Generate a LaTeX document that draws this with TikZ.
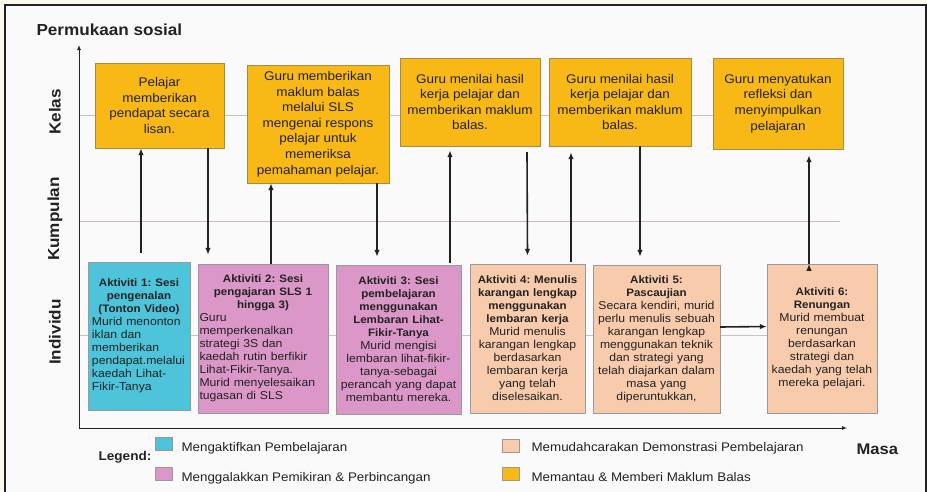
\documentclass[tikz,border=0pt]{standalone}
\usepackage{fontspec}
\setmainfont[FakeStretch=1.07]{Liberation Sans}
\usetikzlibrary{arrows.meta}
\frenchspacing

\definecolor{kuning}{HTML}{F8B916}
\definecolor{kuningtepi}{HTML}{A88A40}
\definecolor{biru}{HTML}{4DC4DA}
\definecolor{jambu}{HTML}{DA97C8}
\definecolor{pic}{HTML}{F8CBAC}
\definecolor{kelabutepi}{HTML}{9A9A9A}
\definecolor{kelabu}{HTML}{C4C4C4}
\definecolor{garismerah}{HTML}{CDB9B9}
\definecolor{hitam}{HTML}{222222}
\definecolor{latar}{HTML}{FCF8EC}

\newcommand{\tajukakt}[1]{{\fontsize{10.8}{13}\selectfont\bfseries #1\par}}

\begin{document}
\begin{tikzpicture}[x=1pt,y=-1pt,
  kotak/.style={draw=kuningtepi, fill=kuning, align=center, inner sep=0pt,
    text=hitam, font=\fontsize{12.6}{15.6}\selectfont},
  aktiviti/.style={draw=kelabutepi, inner sep=0pt, text=hitam,
    font=\fontsize{11.4}{13}\selectfont},
  paksi/.style={-{Latex[length=5pt,width=4pt]}, line width=1pt, draw=hitam},
  panah/.style={-{Latex[length=7pt,width=5.5pt]}, line width=1.6pt, draw=hitam},
  tahap/.style={font=\fontsize{16}{18}\selectfont\bfseries, text=hitam},
  petak/.style={draw=kelabutepi, minimum width=17pt, minimum height=13pt, inner sep=0pt},
  petunjuk/.style={anchor=base west, text=hitam, font=\fontsize{12.5}{14}\selectfont}]

  \useasboundingbox (0,0) rectangle (927,491);
  \fill[latar] (0,0) rectangle (927,491);
  \draw[hitam, line width=1.2pt, fill=white!98!black] (5,5) rectangle (926,530);

  \draw[kelabu, line width=0.8pt] (79,115) -- (840,115);
  \draw[garismerah, line width=0.8pt] (79,221) -- (840,221);
  \draw[kelabu, line width=0.8pt] (79,335) -- (840,335);

  \coordinate (asal) at (79,428);
  \coordinate (atas) at (79,45);
  \coordinate (kanan) at (847,428);
  \draw[paksi] (asal) -- (atas);
  \draw[paksi] (asal) -- (kanan);

  \node[tahap, anchor=base west] (judul) at (33,35) {Permukaan sosial};
  \node[tahap, anchor=base west, font=\fontsize{15.5}{18}\selectfont\bfseries] (masa) at (853,454) {Masa};
  \node[tahap, rotate=90] (kelas) at (55,112) {Kelas};
  \node[tahap, rotate=90] (kumpulan) at (55,219) {Kumpulan};
  \node[tahap, rotate=90] (individu) at (55,332) {Individu};

  \node[kotak, minimum width=129pt, minimum height=85pt] (t1) at (159.5,105.5)
    {Pelajar\\ memberikan\\ pendapat secara\\ lisan.};
  \node[kotak, minimum width=142pt, minimum height=118pt] (t2) at (318,124)
    {Guru memberikan\\ maklum balas\\ melalui SLS\\ mengenai respons\\ pelajar untuk\\ memeriksa\\ pemahaman pelajar.};
  \node[kotak, minimum width=140pt, minimum height=88pt] (t3) at (470,102)
    {Guru menilai hasil\\ kerja pelajar dan\\ memberikan maklum\\ balas.};
  \node[kotak, minimum width=142pt, minimum height=88pt] (t4) at (620,102)
    {Guru menilai hasil\\ kerja pelajar dan\\ memberikan maklum\\ balas.};
  \node[kotak, minimum width=130pt, minimum height=91pt] (t5) at (778,103.5)
    {Guru menyatukan\\ refleksi dan\\ menyimpulkan\\ pelajaran};

  \node[aktiviti, fill=biru, minimum width=102pt, minimum height=148pt, text width=94pt] (b1) at (139,336)
    {\centering\tajukakt{Aktiviti 1: Sesi\\ pengenalan\\ (Tonton Video)}\raggedright
     Murid menonton\\ iklan dan\\ memberikan\\ pendapat.melalui\\ kaedah Lihat-\\ Fikir-Tanya\par};
  \node[aktiviti, fill=jambu, minimum width=130pt, minimum height=149pt, text width=127pt] (b2) at (263,338.5)
    {\centering\tajukakt{Aktiviti 2: Sesi\\ pengajaran SLS 1\\ hingga 3)}\raggedright
     Guru\\ memperkenalkan\\ strategi 3S dan\\ kaedah rutin berfikir\\ Lihat-Fikir-Tanya.\\ Murid menyelesaikan\\ tugasan di SLS\par};
  \node[aktiviti, fill=jambu, minimum width=125pt, minimum height=149pt, text width=123pt] (b3) at (398.5,339.5)
    {\centering\tajukakt{Aktiviti 3: Sesi\\ pembelajaran\\ menggunakan\\ Lembaran Lihat-\\ Fikir-Tanya}
     Murid mengisi\\ lembaran lihat-fikir-\\ tanya-sebagai\\ perancah yang dapat\\ membantu mereka.\par};
  \node[aktiviti, fill=pic, minimum width=115pt, minimum height=149pt, text width=113pt] (b4) at (527.5,338.5)
    {\centering\tajukakt{Aktiviti 4: Menulis\\ karangan lengkap\\ menggunakan\\ lembaran kerja}
     Murid menulis\\ karangan lengkap\\ berdasarkan\\ lembaran kerja\\ yang telah\\ diselesaikan.\par};
  \node[aktiviti, fill=pic, minimum width=127pt, minimum height=148pt, text width=125pt] (b5) at (656.5,339)
    {\centering\tajukakt{Aktiviti 5:\\ Pascaujian}
     Secara kendiri, murid\\ perlu menulis sebuah\\ karangan lengkap\\ menggunakan teknik\\ dan strategi yang\\ telah diajarkan dalam\\ masa yang\\ diperuntukkan,\par};
  \node[aktiviti, fill=pic, minimum width=110pt, minimum height=149pt, text width=108pt] (b6) at (822,338.5)
    {\centering\tajukakt{Aktiviti 6:\\ Renungan}
     Murid membuat\\ renungan\\ berdasarkan\\ strategi dan\\ kaedah yang telah\\ mereka pelajari.\par};

  \path[panah]
    ([xshift=2pt,yshift=9pt]b1.north) edge ([xshift=-18.5pt]t1.south)
    ([xshift=48.5pt]t1.south) edge ([xshift=-55pt,yshift=9pt]b2.north)
    ([xshift=8pt]b2.north) edge ([xshift=-47pt]t2.south)
    ([xshift=59pt]t2.south) edge ([xshift=-21.5pt,yshift=8pt]b3.north)
    ([xshift=51.5pt,yshift=2pt]b3.north) edge ([xshift=-20pt,yshift=-4pt]t3.south)
    ([xshift=57pt,yshift=-6pt]t3.south) edge ([yshift=8pt]b4.north)
    ([xshift=43.5pt,yshift=2pt]b4.north) edge ([xshift=-49pt,yshift=-6pt]t4.south)
    ([xshift=20pt]t4.south) edge ([xshift=-16.5pt,yshift=8pt]b5.north)
    ([yshift=12pt]b5.east) edge ([yshift=12pt]b6.west)
    ([xshift=-13pt]b6.north) edge ([xshift=31pt,yshift=-6pt]t5.south);

  \node[tahap, anchor=base west, font=\fontsize{12.7}{14}\selectfont\bfseries] (legend) at (95,460) {Legend:};
  \node[petak, fill=biru] (p1) at (163.5,443.5) {};
  \node[petak, fill=jambu] (p2) at (163.5,473.5) {};
  \node[petak, fill=pic] (p3) at (511,446) {};
  \node[petak, fill=kuning] (p4) at (511,474) {};
  \node[petunjuk] (l1) at (178,451) {Mengaktifkan Pembelajaran};
  \node[petunjuk] (l2) at (178,481) {Menggalakkan Pemikiran \& Perbincangan};
  \node[petunjuk] (l3) at (528,451) {Memudahcarakan Demonstrasi Pembelajaran};
  \node[petunjuk] (l4) at (528,481) {Memantau \& Memberi Maklum Balas};
\end{tikzpicture}
\end{document}
